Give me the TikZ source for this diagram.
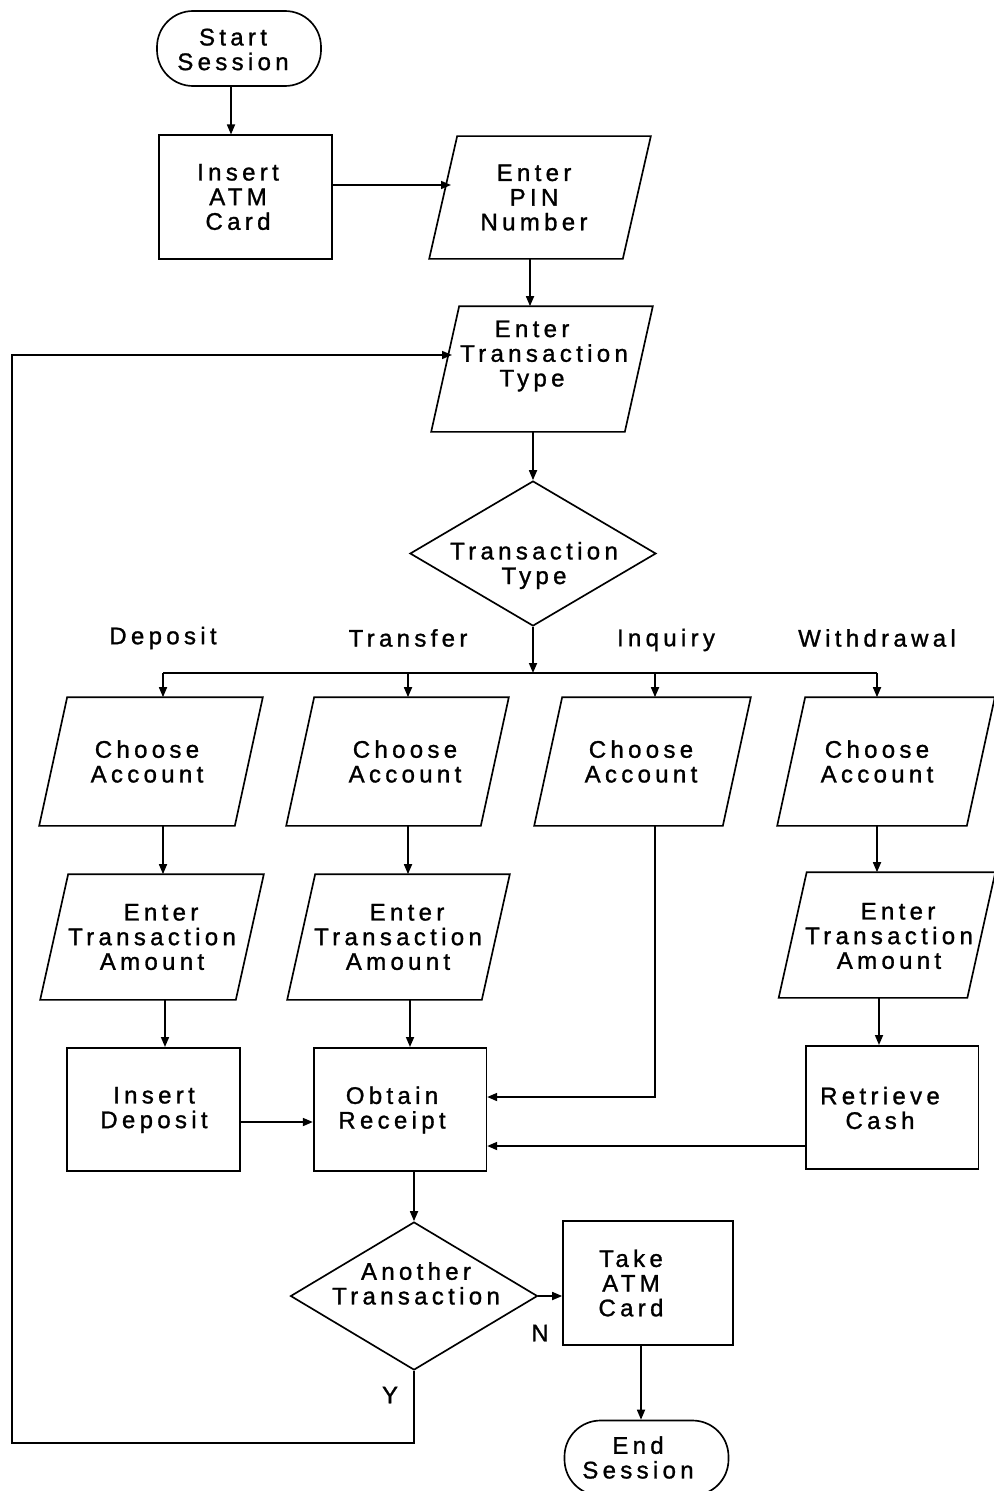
\documentclass[tikz,border=0pt]{standalone}
\usepackage{fontspec}
\setmainfont{Liberation Sans}[LetterSpace=18,FakeBold=1.2]
\usetikzlibrary{shapes.geometric,arrows.meta,calc}
\newcommand\iodraw[1]{\draw ($(#1.north west)+(14,0)$) -- ($(#1.north east)+(14,0)$) -- ($(#1.south east)+(-14,0)$) -- ($(#1.south west)+(-14,0)$) -- cycle;}
\begin{document}
\begin{tikzpicture}[x=0.75pt,y=-0.75pt,line width=1.25pt,
  every node/.style={font=\fontsize{18}{18.5}\selectfont,align=center,inner sep=0pt},
  procbox/.style={draw,rectangle,minimum width=129.5pt,minimum height=92.5pt},
  iobox/.style={rectangle,minimum height=93pt},
  term/.style={draw,rectangle,rounded corners=27pt,minimum width=123pt,minimum height=56.25pt},
  dec/.style={draw,diamond,minimum width=184.5pt,minimum height=108.75pt},
  arr/.style={-{Triangle[length=7.5pt,width=6pt]}}]
\useasboundingbox (0,0) rectangle (994,1491);
% shapes
\node[term] (start) at (239,48.5) {};
\node[procbox] (card) at (245.5,197) {};
\node[iobox,minimum width=144pt,minimum height=90.75pt] (pin) at (540,197.5) {};
\node[iobox,minimum width=144pt] (ttype) at (542,369) {};
\node[dec] (ttd) at (533,553.5) {};
\node[iobox,minimum width=145.5pt,minimum height=95.25pt] (ca1) at (151,761.5) {};
\node[iobox,minimum width=144.75pt,minimum height=95.25pt] (ca2) at (397.5,761.5) {};
\node[iobox,minimum width=140.25pt,minimum height=95.25pt] (ca3) at (642.5,761.5) {};
\node[iobox,minimum width=141pt,minimum height=95.25pt] (ca4) at (886,761.5) {};
\node[iobox,minimum width=145.5pt] (ea1) at (152,937) {};
\node[iobox,minimum width=144.75pt] (ea2) at (398.5,937) {};
\node[iobox,minimum width=140.25pt] (ea4) at (887,935) {};
\node[procbox] (dep) at (153.5,1109.5) {};
\node[procbox] (rec) at (400,1109.5) {};
\node[procbox] (cash) at (892,1107.5) {};
\node[dec,minimum width=185.25pt,minimum height=111pt] (dec2) at (414,1296) {};
\node[procbox,minimum width=127.5pt,minimum height=93pt] (take) at (648,1283) {};
\node[term] (end) at (646.5,1458) {};
% texts
\node (tstart) at (233,49.5) {Start\\Session};
\node (tcard) at (238,197) {Insert\\ATM\\Card};
\node (tpin) at (534,197.5) {Enter\\PIN\\Number};
\node (tttype) at (532,356) {Enter\\\hspace*{18pt}Transaction\\Type};
\node (tttd) at (534,565.5) {Transaction\\Type};
\node (ldep) at (163,638) {Deposit};
\node (ltra) at (408,638) {Transfer};
\node (linq) at (666,640) {Inquiry};
\node (lwit) at (877,638) {Withdrawal};
\node (tca1) at (147,761.5) {Choose\\Account};
\node (tca2) at (405,761.5) {Choose\\Account};
\node (tca3) at (641,761.5) {Choose\\Account};
\node (tca4) at (877,761.5) {Choose\\Account};
\node (tea1) at (152,937) {\hspace*{13.5pt}Enter\\Transaction\\Amount};
\node (tea2) at (398,937) {\hspace*{13.5pt}Enter\\Transaction\\Amount};
\node (tea4) at (889,936) {\hspace*{13.5pt}Enter\\Transaction\\Amount};
\node (tdep) at (154,1110) {Insert\\Deposit};
\node (trec) at (392,1110) {Obtain\\Receipt};
\node (tcash) at (880,1108) {Retrieve\\Cash};
\node (tdec2) at (416,1283.5) {Another\\Transaction};
\node (ttake) at (631,1283) {Take\\ATM\\Card};
\node (tend) at (638,1457.5) {End\\Session};
\node (nlab) at (540,1333) {N};
\node (ylab) at (390,1395) {Y};
% parallelogram outlines
\iodraw{pin}\iodraw{ttype}
\iodraw{ca1}\iodraw{ca2}\iodraw{ca3}\iodraw{ca4}
\iodraw{ea1}\iodraw{ea2}\iodraw{ea4}
% coordinates
\coordinate (xa) at (231,0);
\coordinate (pinin) at (451,185);
\coordinate (xb) at (530,0);
\coordinate (bus) at (533,673);
\coordinate (x1) at (163,673);
\coordinate (x2) at (408,673);
\coordinate (x3) at (655,673);
\coordinate (x4) at (877,673);
\coordinate (y1) at (165,0);
\coordinate (y2) at (410,0);
\coordinate (y4) at (879,0);
\coordinate (inq) at (655,1097);
\coordinate (yd) at (0,1122);
\coordinate (yc) at (0,1146);
\coordinate (xe) at (641,0);
\coordinate (lb) at (12,1443);
\coordinate (lin) at (452,355);
% connectors
\draw[arr] (start.south -| xa) -- (card.north -| xa);
\draw[arr] (card.east |- pinin) -- (pinin);
\draw[arr] (pin.south -| xb) -- (ttype.north -| xb);
\draw[arr] (ttype.south -| ttd.north) -- (ttd.north);
\draw[arr] (ttd.south) -- (bus);
\draw (x1) -- (x4);
\draw[arr] (x1) -- (x1 |- ca1.north);
\draw[arr] (x2) -- (x2 |- ca2.north);
\draw[arr] (x3) -- (x3 |- ca3.north);
\draw[arr] (x4) -- (x4 |- ca4.north);
\draw[arr] (ca1.south -| x1) -- (ea1.north -| x1);
\draw[arr] (ca2.south -| x2) -- (ea2.north -| x2);
\draw[arr] (ca4.south -| x4) -- (ea4.north -| x4);
\draw[arr] (ea1.south -| y1) -- (dep.north -| y1);
\draw[arr] (ea2.south -| y2) -- (rec.north -| y2);
\draw[arr] (ea4.south -| y4) -- (cash.north -| y4);
\draw[arr] (ca3.south -| x3) -- (inq) -- (rec.east |- inq);
\draw[arr] (dep.east |- yd) -- (rec.west |- yd);
\draw[arr] (cash.west |- yc) -- (rec.east |- yc);
\draw[arr] (rec.south -| dec2.north) -- (dec2.north);
\draw[arr] (dec2.east) -- (take.west |- dec2.east);
\draw[arr] (take.south -| xe) -- (end.north -| xe);
\draw[arr] (dec2.south) -- (dec2.south |- lb) -- (lb) -- (lb |- lin) -- (lin);
\end{tikzpicture}
\end{document}
